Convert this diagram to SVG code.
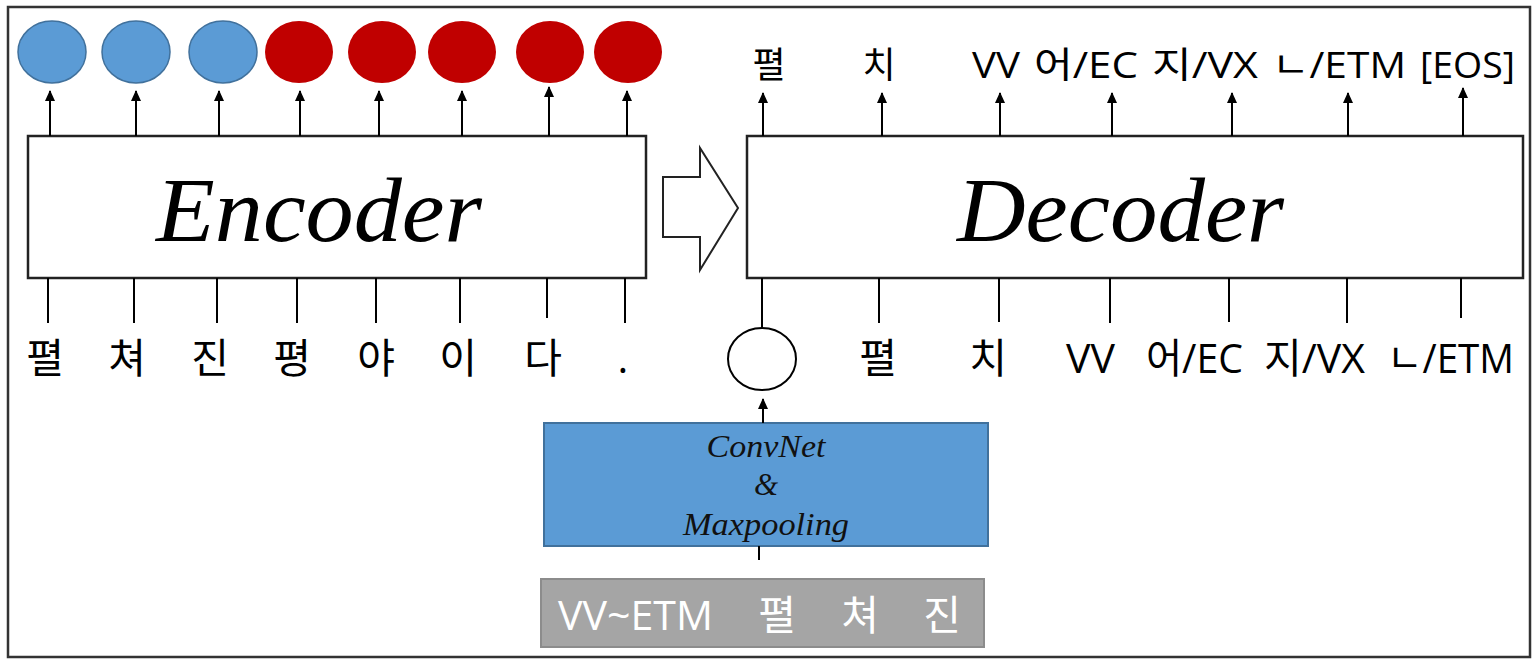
<svg xmlns="http://www.w3.org/2000/svg" width="1537" height="661" viewBox="0 0 1537 661">
<style>
.box{fill:#fff;stroke:#222;stroke-width:2.5}
.big{font-family:"Liberation Serif",serif;font-style:italic;font-size:90px;fill:#000}
.conv{font-family:"Liberation Serif",serif;font-style:italic;font-size:31px;fill:#111}
.lt{font-family:"Open Sans","Noto Sans CJK KR",sans-serif;font-size:36px;fill:#000}
.lb{font-family:"Open Sans","Noto Sans CJK KR",sans-serif;font-size:41px;fill:#000}
.lg{font-family:"Open Sans","Noto Sans CJK KR",sans-serif;font-size:41px;fill:#fff}
.blue{fill:#5B9BD5;stroke:#41719C;stroke-width:1.5}
.red{fill:#C00000}
.ln{stroke:#000;stroke-width:2;fill:none}
.ar{stroke:#000;stroke-width:2;fill:none;marker-end:url(#ah)}
</style>
<defs>
<marker id="ah" markerUnits="userSpaceOnUse" markerWidth="10" markerHeight="12" refX="5" refY="1" orient="0" viewBox="0 0 10 12">
<path d="M5,0 L10,11 L0,11 z" fill="#000"/>
</marker>
</defs>
<rect id="frame" x="8" y="7" width="1522" height="650" fill="#fff" stroke="#333" stroke-width="2.5"/>

<g id="encoder-outputs">
<ellipse class="blue" cx="52" cy="52" rx="34" ry="31"/>
<ellipse class="blue" cx="136" cy="52" rx="34" ry="31"/>
<ellipse class="blue" cx="223" cy="52" rx="34" ry="31"/>
<ellipse class="red" cx="299" cy="52" rx="34" ry="31"/>
<ellipse class="red" cx="382" cy="52" rx="34" ry="31"/>
<ellipse class="red" cx="462" cy="52" rx="34" ry="31"/>
<ellipse class="red" cx="550" cy="52" rx="34" ry="31"/>
<ellipse class="red" cx="628" cy="52" rx="34" ry="31"/>
</g>

<g id="encoder">
<rect class="box" x="28" y="136" width="618" height="142"/>
<text class="big" x="156" y="241" textLength="326" lengthAdjust="spacingAndGlyphs">Encoder</text>
</g>

<g id="transfer-arrow">
<path d="M663,177 L700,177 L700,148 L738,208 L700,270 L700,237 L663,237 z" fill="#fff" stroke="#222" stroke-width="2"/>
</g>

<g id="decoder">
<rect class="box" x="747" y="136" width="776" height="142"/>
<text class="big" x="957" y="241" textLength="327" lengthAdjust="spacingAndGlyphs">Decoder</text>
</g>

<g id="decoder-outputs">
<text class="lt" x="769" y="78" text-anchor="middle">펼</text>
<text class="lt" x="879" y="78" text-anchor="middle">치</text>
<text class="lt" x="972" y="78" textLength="48" lengthAdjust="spacingAndGlyphs">VV</text>
<text class="lt" x="1034" y="78" textLength="104" lengthAdjust="spacingAndGlyphs">어/EC</text>
<text class="lt" x="1152" y="78" textLength="106" lengthAdjust="spacingAndGlyphs">지/VX</text>
<text class="lt" x="1272" y="78" textLength="134" lengthAdjust="spacingAndGlyphs">ㄴ/ETM</text>
<text class="lt" x="1420" y="78" textLength="95" lengthAdjust="spacingAndGlyphs">[EOS]</text>
</g>

<g id="encoder-inputs">
<text class="lb" x="45" y="373" text-anchor="middle">펼</text>
<text class="lb" x="127" y="373" text-anchor="middle">쳐</text>
<text class="lb" x="210" y="373" text-anchor="middle">진</text>
<text class="lb" x="292" y="373" text-anchor="middle">평</text>
<text class="lb" x="376" y="373" text-anchor="middle">야</text>
<text class="lb" x="458" y="373" text-anchor="middle">이</text>
<text class="lb" x="543" y="373" text-anchor="middle">다</text>
<text class="lb" x="623" y="373" text-anchor="middle">.</text>
</g>

<g id="decoder-inputs">
<text class="lb" x="878" y="373" text-anchor="middle">펼</text>
<text class="lb" x="988" y="373" text-anchor="middle">치</text>
<text class="lb" x="1066" y="373" textLength="49" lengthAdjust="spacingAndGlyphs">VV</text>
<text class="lb" x="1146" y="373" textLength="97" lengthAdjust="spacingAndGlyphs">어/EC</text>
<text class="lb" x="1264" y="373" textLength="101" lengthAdjust="spacingAndGlyphs">지/VX</text>
<text class="lb" x="1387" y="373" textLength="127" lengthAdjust="spacingAndGlyphs">ㄴ/ETM</text>
</g>

<g id="char-embedding">
<ellipse cx="762" cy="359" rx="34" ry="31" fill="#fff" stroke="#000" stroke-width="2"/>
</g>

<g id="convnet">
<rect x="544" y="423" width="444" height="123" fill="#5B9BD5" stroke="#41719C" stroke-width="2"/>
<text class="conv" x="766" y="457" text-anchor="middle" textLength="119" lengthAdjust="spacingAndGlyphs">ConvNet</text>
<text class="conv" x="766" y="495" text-anchor="middle">&amp;</text>
<text class="conv" x="766" y="535" text-anchor="middle" textLength="166" lengthAdjust="spacingAndGlyphs">Maxpooling</text>
</g>

<g id="input-chars">
<rect x="541" y="579" width="443" height="68" fill="#A5A5A5" stroke="#8C8C8C" stroke-width="2"/>
<text class="lg" x="558" y="630" textLength="155" lengthAdjust="spacingAndGlyphs">VV~ETM</text>
<text class="lg" x="777" y="630" text-anchor="middle">펼</text>
<text class="lg" x="860" y="630" text-anchor="middle">쳐</text>
<text class="lg" x="942" y="630" text-anchor="middle">진</text>
</g>

<g id="connectors">
<line class="ar" x1="50" y1="136" x2="50" y2="91"/>
<line class="ar" x1="136" y1="136" x2="136" y2="91"/>
<line class="ar" x1="219" y1="136" x2="219" y2="91"/>
<line class="ar" x1="300" y1="136" x2="300" y2="91"/>
<line class="ar" x1="379" y1="136" x2="379" y2="91"/>
<line class="ar" x1="462" y1="136" x2="462" y2="91"/>
<line class="ar" x1="549" y1="136" x2="549" y2="87"/>
<line class="ar" x1="627" y1="136" x2="627" y2="91"/>

<line class="ar" x1="763" y1="136" x2="763" y2="93"/>
<line class="ar" x1="882" y1="136" x2="882" y2="93"/>
<line class="ar" x1="1000" y1="136" x2="1000" y2="93"/>
<line class="ar" x1="1112" y1="136" x2="1112" y2="93"/>
<line class="ar" x1="1232" y1="136" x2="1232" y2="93"/>
<line class="ar" x1="1348" y1="136" x2="1348" y2="93"/>
<line class="ar" x1="1463" y1="136" x2="1463" y2="88"/>

<line class="ln" x1="48" y1="278" x2="48" y2="323"/>
<line class="ln" x1="134" y1="278" x2="134" y2="323"/>
<line class="ln" x1="217" y1="278" x2="217" y2="323"/>
<line class="ln" x1="297" y1="278" x2="297" y2="323"/>
<line class="ln" x1="376" y1="278" x2="376" y2="323"/>
<line class="ln" x1="460" y1="278" x2="460" y2="323"/>
<line class="ln" x1="547" y1="278" x2="547" y2="318"/>
<line class="ln" x1="625" y1="278" x2="625" y2="323"/>

<line class="ln" x1="762" y1="278" x2="762" y2="328"/>
<line class="ln" x1="879" y1="278" x2="879" y2="323"/>
<line class="ln" x1="999" y1="278" x2="999" y2="322"/>
<line class="ln" x1="1110" y1="278" x2="1110" y2="323"/>
<line class="ln" x1="1229" y1="278" x2="1229" y2="322"/>
<line class="ln" x1="1347" y1="278" x2="1347" y2="323"/>
<line class="ln" x1="1461" y1="278" x2="1461" y2="318"/>

<line class="ar" x1="763" y1="423" x2="763" y2="399"/>
<line class="ln" x1="759" y1="546" x2="759" y2="560"/>
</g>
</svg>
